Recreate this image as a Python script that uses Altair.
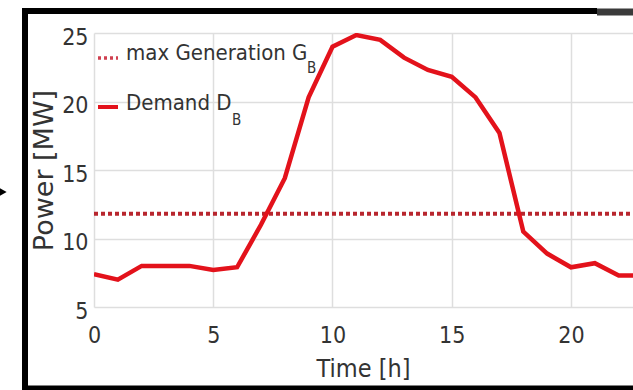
import altair as alt
import pandas as pd

hours = list(range(24))
demand = [7.4, 7.0, 8.0, 8.0, 8.0, 7.7, 7.9, 11.0, 14.4, 20.3, 24.0, 24.85, 24.5,
          23.2, 22.3, 21.8, 20.3, 17.7, 10.5, 8.9, 7.9, 8.2, 7.3, 7.3]
max_gen = [11.8] * 24

x_ticks = [0, 5, 10, 15, 20]
y_ticks = [5, 10, 15, 20, 25]

FONT = "DejaVu Sans Condensed"
TXT = "#333333"
RED = "#e3121b"
DRED = "#b8262e"

df = pd.DataFrame({"hour": hours, "demand": demand, "gen": max_gen})
one = pd.DataFrame({"k": [0]})

xs = alt.Scale(domain=[0, 22.6], nice=False)
ys = alt.Scale(domain=[5, 25], nice=False)

xaxis = alt.Axis(values=x_ticks, title="Time [h]", grid=True, gridColor="#dedede", gridWidth=1.5,
                 domain=False, ticks=False, tickSize=0, labelFont=FONT, labelFontSize=23,
                 labelColor=TXT, labelBaseline="middle", labelPadding=28, labelFlush=False,
                 titleFont=FONT, titleFontSize=25, titleFontWeight="normal", titleColor=TXT,
                 titleBaseline="middle", titleY=61, titleX=269)
yaxis = alt.Axis(values=y_ticks, title="Power [MW]", grid=True, gridColor="#dedede", gridWidth=1.5,
                 domain=False, ticks=False, tickSize=0, labelFont=FONT, labelFontSize=23,
                 labelColor=TXT, labelBaseline="middle", labelPadding=6, labelOffset=4,
                 labelFlush=False,
                 titleFont="DejaVu Sans", titleFontSize=27, titleFontWeight="normal",
                 titleColor=TXT, titleAngle=270, titleBaseline="middle", titleX=-50, titleY=137)

base = alt.Chart(df)
demand_line = base.mark_line(color=RED, strokeWidth=4.5, clip=True).encode(
    x=alt.X("hour:Q", scale=xs, axis=xaxis),
    y=alt.Y("demand:Q", scale=ys, axis=yaxis),
)
gen_line = base.mark_line(color=DRED, strokeWidth=4, strokeDash=[4, 3], clip=True).encode(
    x=alt.X("hour:Q", scale=xs),
    y=alt.Y("gen:Q", scale=ys),
)

dec = alt.Chart(one)
leg1 = dec.mark_rule(color="#d04050", strokeWidth=3.5, strokeDash=[3, 3]).encode(
    x=alt.value(4), x2=alt.value(24), y=alt.value(25))
leg2 = dec.mark_rule(color=RED, strokeWidth=4).encode(
    x=alt.value(4), x2=alt.value(24), y=alt.value(74))
t1 = dec.mark_text(font=FONT, fontSize=22, color=TXT, align="left", baseline="alphabetic",
                   text="max Generation G").encode(x=alt.value(32), y=alt.value(27))
t1s = dec.mark_text(font=FONT, fontSize=15, color=TXT, align="left", baseline="alphabetic",
                    text="B").encode(x=alt.value(213), y=alt.value(40))
t2 = dec.mark_text(font=FONT, fontSize=22, color=TXT, align="left", baseline="alphabetic",
                   text="Demand D").encode(x=alt.value(32), y=alt.value(77))
t2s = dec.mark_text(font=FONT, fontSize=15, color=TXT, align="left", baseline="alphabetic",
                    text="B").encode(x=alt.value(138), y=alt.value(92))

fl = dec.mark_rule(color="black", strokeWidth=6).encode(
    x=alt.value(-69), y=alt.value(-25), y2=alt.value(356))
ft = dec.mark_rule(color="black", strokeWidth=6).encode(
    x=alt.value(-72), x2=alt.value(503), y=alt.value(-22))
ft2 = dec.mark_rule(color="#3a3a3a", strokeWidth=7).encode(
    x=alt.value(503), x2=alt.value(545), y=alt.value(-21))
fb = dec.mark_rule(color="black", strokeWidth=5).encode(
    x=alt.value(-72), x2=alt.value(545), y=alt.value(355))
arrow = dec.mark_point(shape="triangle-right", filled=True, color="black", size=70, opacity=1).encode(
    x=alt.value(-91), y=alt.value(159))

chart = alt.layer(gen_line, demand_line, leg1, leg2, t1, t1s, t2, t2s, fl, ft, ft2, fb, arrow).properties(
    width=539, height=274,
    autosize=alt.AutoSizeParams(type="none"),
    padding={"left": 94, "top": 33, "right": 0, "bottom": 83},
    background="white",
).configure_view(stroke=None)

chart.save("out.html", embed_options={"renderer": "svg", "actions": False})
